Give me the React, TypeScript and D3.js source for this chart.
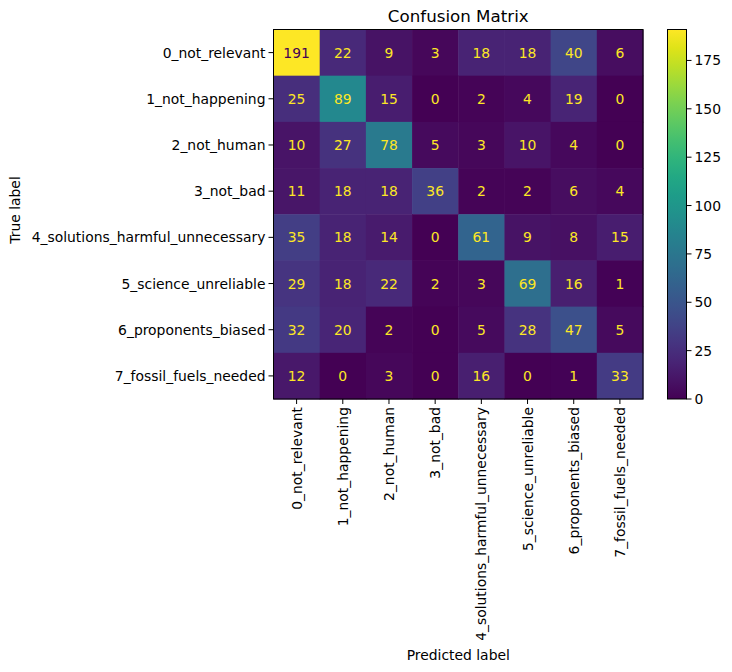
import React from "react";
import * as d3 from "d3";

const labels = [
  "0_not_relevant",
  "1_not_happening",
  "2_not_human",
  "3_not_bad",
  "4_solutions_harmful_unnecessary",
  "5_science_unreliable",
  "6_proponents_biased",
  "7_fossil_fuels_needed",
];

const row0 = [191, 22, 9, 3, 18, 18, 40, 6];
const row1 = [25, 89, 15, 0, 2, 4, 19, 0];
const row2 = [10, 27, 78, 5, 3, 10, 4, 0];
const row3 = [11, 18, 18, 36, 2, 2, 6, 4];
const row4 = [35, 18, 14, 0, 61, 9, 8, 15];
const row5 = [29, 18, 22, 2, 3, 69, 16, 1];
const row6 = [32, 20, 2, 0, 5, 28, 47, 5];
const row7 = [12, 0, 3, 0, 16, 0, 1, 33];
const matrix = [row0, row1, row2, row3, row4, row5, row6, row7];

const colorbarTicks = [0, 25, 50, 75, 100, 125, 150, 175];

const W = 732;
const H = 672;
const FONT = "DejaVu Sans, sans-serif";

export default function App() {
  const left = 273.5;
  const top = 29.5;
  const size = 369.5;
  const x = d3.scaleBand<number>().domain(d3.range(8)).range([left, left + size]);
  const y = d3.scaleBand<number>().domain(d3.range(8)).range([top, top + size]);
  const vmin = d3.min(matrix.flat()) as number;
  const vmax = d3.max(matrix.flat()) as number;
  const color = d3.scaleSequential(d3.interpolateViridis).domain([vmin, vmax]);
  const thresh = (vmin + vmax) / 2;

  const cbLeft = 667.5;
  const cbW = 19;
  const cbY = d3.scaleLinear().domain([vmin, vmax]).range([top + size, top]);
  const stops = d3.range(0, 1.0001, 0.05);

  return (
    <svg width={W} height={H} style={{ position: "absolute", left: 0, top: 0 }} fontFamily={FONT}>
      <defs>
        <linearGradient id="cbgrad" x1="0" y1="1" x2="0" y2="0">
          {stops.map((t) => (
            <stop key={t} offset={`${t * 100}%`} stopColor={d3.interpolateViridis(t)} />
          ))}
        </linearGradient>
      </defs>
      <rect x={0} y={0} width={W} height={H} fill="white" />
      <text x={left + size / 2} y={22} textAnchor="middle" fontSize={16.7} fill="#000">
        Confusion Matrix
      </text>
      {matrix.map((row, i) =>
        row.map((v, j) => (
          <g key={`${i}-${j}`}>
            <rect
              x={x(j)}
              y={y(i)}
              width={x.bandwidth() + 0.5}
              height={y.bandwidth() + 0.5}
              fill={color(v)}
            />
            <text
              x={(x(j) as number) + x.bandwidth() / 2}
              y={(y(i) as number) + y.bandwidth() / 2}
              textAnchor="middle"
              dominantBaseline="central"
              fontSize={13.9}
              fill={v < thresh ? d3.interpolateViridis(1) : d3.interpolateViridis(0)}
            >
              {v}
            </text>
          </g>
        ))
      )}
      <rect x={left} y={top} width={size} height={size} fill="none" stroke="#000" strokeWidth={1} />
      {labels.map((l, i) => {
        const cy = (y(i) as number) + y.bandwidth() / 2;
        return (
          <g key={`y${i}`}>
            <line x1={left - 5} x2={left} y1={cy} y2={cy} stroke="#000" />
            <text x={left - 8} y={cy} textAnchor="end" dominantBaseline="central" fontSize={13.9}>
              {l}
            </text>
          </g>
        );
      })}
      {labels.map((l, j) => {
        const cx = (x(j) as number) + x.bandwidth() / 2;
        const by = top + size;
        return (
          <g key={`x${j}`}>
            <line x1={cx} x2={cx} y1={by} y2={by + 5} stroke="#000" />
            <text
              transform={`translate(${cx},${by + 8}) rotate(-90)`}
              textAnchor="end"
              dominantBaseline="central"
              fontSize={13.9}
            >
              {l}
            </text>
          </g>
        );
      })}
      <text transform={`translate(20,210) rotate(-90)`} textAnchor="middle" fontSize={13.9}>
        True label
      </text>
      <text x={left + size / 2} y={660} textAnchor="middle" fontSize={13.9}>
        Predicted label
      </text>
      <rect x={cbLeft} y={top} width={cbW} height={size} fill="url(#cbgrad)" />
      <rect x={cbLeft} y={top} width={cbW} height={size} fill="none" stroke="#000" strokeWidth={1} />
      {colorbarTicks.map((t) => (
        <g key={`cb${t}`}>
          <line x1={cbLeft + cbW} x2={cbLeft + cbW + 5} y1={cbY(t)} y2={cbY(t)} stroke="#000" />
          <text x={cbLeft + cbW + 8} y={cbY(t)} dominantBaseline="central" fontSize={13.9}>
            {t}
          </text>
        </g>
      ))}
    </svg>
  );
}
